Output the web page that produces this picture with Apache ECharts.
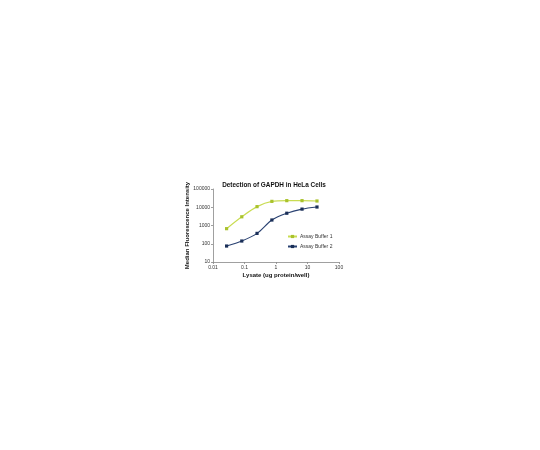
<!DOCTYPE html>
<html>
<head>
<meta charset="utf-8">
<script src="https://cdn.jsdelivr.net/npm/echarts@6/dist/echarts.min.js"></script>
<style>
  html, body { margin: 0; padding: 0; background: #fff; }
  #chart { width: 540px; height: 450px; }
</style>
</head>
<body>
<div id="chart"></div>
<script>
// lysate amounts (ug protein/well), 3-fold dilutions
const lysate = [0.027, 0.082, 0.25, 0.74, 2.2, 6.7, 20];
// median fluorescence intensity
const buffer1 = [670, 3000, 10800, 21000, 23000, 23000, 22000];
const buffer2 = [75, 141, 370, 2000, 4700, 7900, 10300];
const seriesNames = ['Assay Buffer 1', 'Assay Buffer 2'];
const FONT = 'Liberation Sans, Arial, sans-serif';

const chart = echarts.init(document.getElementById('chart'), null, { renderer: 'canvas' });

const pairs = ys => lysate.map((x, i) => [x, ys[i]]);
// plain numbers, no thousands separators
const plain = v => String(+v.toPrecision(6));

const axisCommon = {
  type: 'log',
  logBase: 10,
  axisLine: { show: true, lineStyle: { color: '#888', width: 0.8 } },
  axisTick: { show: true, length: 2, lineStyle: { color: '#888', width: 0.8 } },
  splitLine: { show: false },
  axisLabel: { color: '#333', fontSize: 5, fontFamily: FONT, margin: 3, formatter: plain },
  nameMoveOverlap: false,
  nameTextStyle: { color: '#111', fontSize: 6, fontWeight: 'bold', fontFamily: FONT }
};

chart.setOption({
  backgroundColor: '#fff',
  animation: false,
  title: {
    text: 'Detection of GAPDH in HeLa Cells',
    left: 274,
    textAlign: 'center',
    top: 182.5,
    padding: 0,
    textStyle: { fontSize: 6.4, fontWeight: 'bold', color: '#111', fontFamily: FONT }
  },
  grid: { left: 213, right: 201, top: 189, bottom: 188, containLabel: false },
  xAxis: Object.assign({}, axisCommon, {
    min: 0.01, max: 100,
    name: 'Lysate (ug protein/well)',
    nameLocation: 'middle',
    nameGap: 10
  }),
  yAxis: Object.assign({}, axisCommon, {
    min: 10, max: 100000,
    name: 'Median Fluorescence Intensity',
    nameLocation: 'middle',
    nameGap: 23
  }),
  legend: {
    orient: 'vertical',
    left: 287,
    top: 234,
    padding: 0,
    itemWidth: 9,
    itemHeight: 4,
    itemGap: 5,
    data: seriesNames,
    textStyle: { fontSize: 5, color: '#333', fontFamily: FONT, padding: [0, 0, 0, -2] }
  },
  series: [
    {
      name: seriesNames[0],
      type: 'line',
      data: pairs(buffer1),
      smooth: 0.3,
      symbol: 'rect',
      symbolSize: 3.2,
      color: '#b9d036',
      lineStyle: { width: 1.2, color: '#c9dc52' },
      itemStyle: { color: '#a9c22c' }
    },
    {
      name: seriesNames[1],
      type: 'line',
      data: pairs(buffer2),
      smooth: 0.3,
      symbol: 'rect',
      symbolSize: 3.2,
      color: '#1d3462',
      lineStyle: { width: 1.1, color: '#2a4272' },
      itemStyle: { color: '#1a2f58' }
    }
  ]
});
</script>
</body>
</html>
